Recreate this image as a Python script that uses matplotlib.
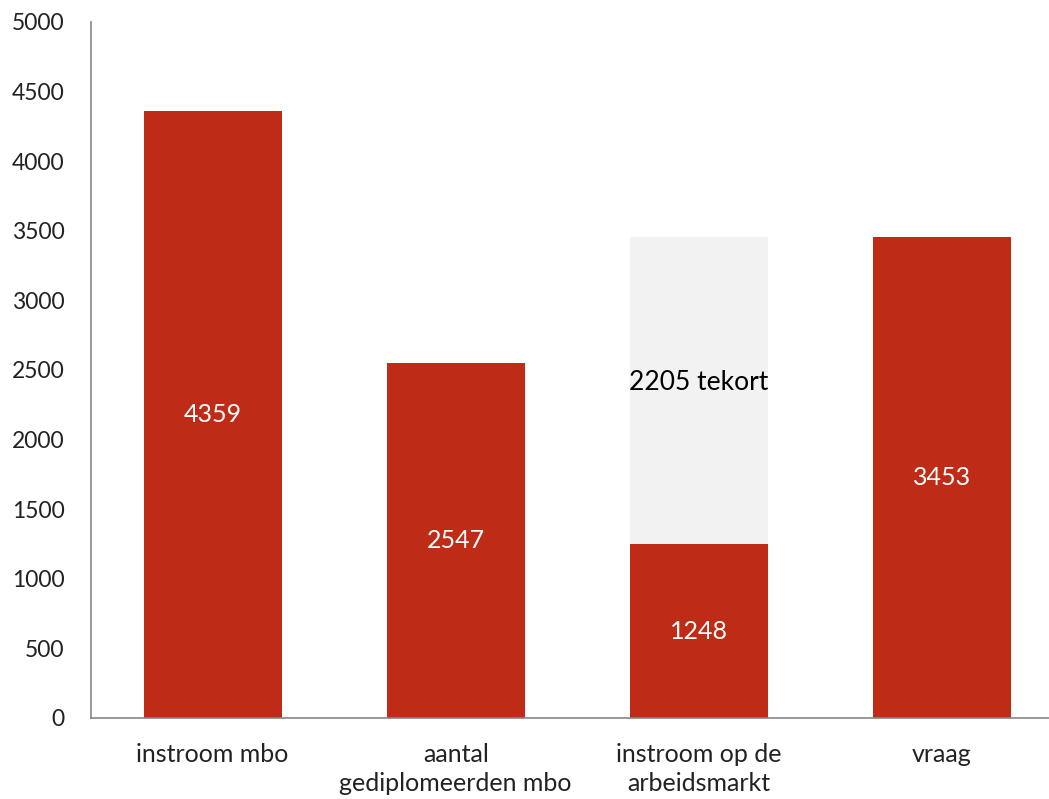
import matplotlib
matplotlib.use("Agg")
import matplotlib.pyplot as plt

categories = ["instroom mbo", "aantal\ngediplomeerden mbo", "instroom op de\narbeidsmarkt", "vraag"]
values = [4359, 2547, 1248, 3453]
shortage = [0, 0, 2205, 0]
shortage_label = "2205 tekort"
yticks = [0, 500, 1000, 1500, 2000, 2500, 3000, 3500, 4000, 4500, 5000]

red = "#BE2B17"
grey = "#F2F2F2"
spine = "#868686"

plt.rcParams["font.family"] = ["Lato", "DejaVu Sans"]

W, H = 1049, 799
fig = plt.figure(figsize=(W / 100, H / 100), dpi=100)
ax = fig.add_axes([91 / W, (H - 718) / H, 1 - 91 / W, (718 - 22) / H])

x = list(range(len(categories)))
width = 0.568
ax.bar(x, values, width=width, color=red, zorder=2)
ax.bar(x, shortage, width=width, bottom=values, color=grey, zorder=1)

for xi, v in zip(x, values):
    ax.text(xi, v / 2, str(v), ha="center", va="center", color="white", fontsize=18)
for xi, v, s in zip(x, values, shortage):
    if s:
        ax.text(xi, v + s / 2 + 60, shortage_label, ha="center", va="center",
                color="black", fontsize=19)

ax.set_xlim(-0.5, 3.44)
ax.set_ylim(0, 5000)
ax.set_yticks(yticks)
ax.set_yticklabels([str(t) for t in yticks])
ax.set_xticks(x)
ax.set_xticklabels(categories, linespacing=1.3, fontsize=18)
ax.tick_params(axis="both", length=0, colors="#222222")
ax.tick_params(axis="y", pad=19, labelsize=16.5)
ax.tick_params(axis="x", pad=18)
for lbl in ax.get_yticklabels():
    lbl.set_horizontalalignment("right")

for side in ["top", "right"]:
    ax.spines[side].set_visible(False)
for side in ["left", "bottom"]:
    ax.spines[side].set_color(spine)
    ax.spines[side].set_linewidth(1.2)

fig.savefig("out.png", dpi=100)
